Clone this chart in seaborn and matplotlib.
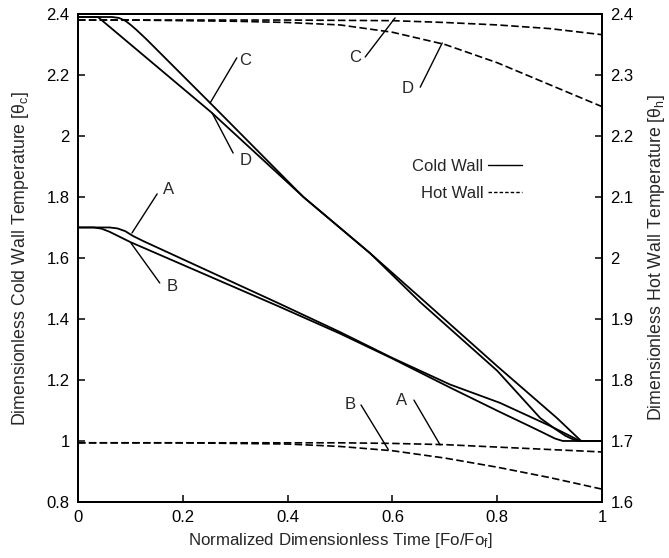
import numpy as np
import pandas as pd
import matplotlib
matplotlib.use("Agg")
import matplotlib.pyplot as plt
import seaborn as sns
from matplotlib.lines import Line2D

# ---- data ----
# Cold wall (left axis, solid)
xA_cold = [0.0, 0.06, 0.075, 0.09, 0.105, 0.125, 0.382, 0.5, 0.6, 0.71, 0.805, 0.9, 0.958, 1.0]
yA_cold = [1.70, 1.70, 1.697, 1.688, 1.672, 1.655, 1.452, 1.357, 1.272, 1.185, 1.125, 1.05, 1.0, 1.0]
xB_cold = [0.0, 0.03, 0.045, 0.06, 0.10, 0.382, 0.5, 0.6, 0.71, 0.805, 0.86, 0.89, 0.91, 0.925, 1.0]
yB_cold = [1.70, 1.70, 1.696, 1.686, 1.652, 1.442, 1.352, 1.27, 1.175, 1.095, 1.05, 1.025, 1.008, 1.0, 1.0]
xC_cold = [0.0, 0.038, 0.065, 0.078, 0.09, 0.10, 0.112, 0.13, 0.254, 0.43, 0.557, 0.653, 0.80, 0.914, 0.96, 1.0]
yC_cold = [2.39, 2.39, 2.39, 2.387, 2.378, 2.365, 2.347, 2.318, 2.105, 1.80, 1.616, 1.47, 1.245, 1.075, 1.0, 1.0]
xD_cold = [0.0, 0.038, 0.254, 0.43, 0.557, 0.653, 0.80, 0.882, 0.91, 0.93, 0.945, 0.955, 1.0]
yD_cold = [2.39, 2.39, 2.078, 1.80, 1.616, 1.455, 1.23, 1.075, 1.04, 1.017, 1.005, 1.0, 1.0]

# Hot wall (right axis, dashed)
xA_hot = [0.0, 0.5, 0.6, 0.7, 0.8, 0.9, 1.0]
yA_hot = [1.697, 1.697, 1.696, 1.694, 1.690, 1.686, 1.682]
xB_hot = [0.0, 0.2, 0.4, 0.5, 0.6, 0.7, 0.8, 0.9, 1.0]
yB_hot = [1.697, 1.697, 1.695, 1.691, 1.684, 1.672, 1.657, 1.640, 1.621]
xC_hot = [0.0, 0.2, 0.4, 0.6, 0.7, 0.8, 0.9, 1.0]
yC_hot = [2.39, 2.39, 2.39, 2.389, 2.386, 2.382, 2.376, 2.366]
xD_hot = [0.0, 0.1, 0.2, 0.3, 0.4, 0.5, 0.6, 0.7, 0.8, 0.9, 1.0]
yD_hot = [2.39, 2.39, 2.389, 2.388, 2.386, 2.382, 2.370, 2.350, 2.320, 2.284, 2.248]

left_ticks = [0.8, 1.0, 1.2, 1.4, 1.6, 1.8, 2.0, 2.2, 2.4]
right_ticks = [1.6, 1.7, 1.8, 1.9, 2.0, 2.1, 2.2, 2.3, 2.4]
x_ticks = [0, 0.2, 0.4, 0.6, 0.8, 1.0]

def frame(xs, ys, name):
    return pd.DataFrame({"x": xs, "y": ys, "case": name})

cold = pd.concat([frame(xA_cold, yA_cold, "A"), frame(xB_cold, yB_cold, "B"),
                  frame(xC_cold, yC_cold, "C"), frame(xD_cold, yD_cold, "D")])
hot = pd.concat([frame(xA_hot, yA_hot, "A"), frame(xB_hot, yB_hot, "B"),
                 frame(xC_hot, yC_hot, "C"), frame(xD_hot, yD_hot, "D")])

# ---- styling ----
sns.set_style("ticks")
plt.rcParams["font.family"] = ["Liberation Sans", "DejaVu Sans"]
plt.rcParams["mathtext.fontset"] = "custom"
plt.rcParams["mathtext.rm"] = "Liberation Sans"
plt.rcParams["mathtext.it"] = "Liberation Sans"

fig = plt.figure(figsize=(6.69, 5.58), dpi=100)
ax = fig.add_axes([0.1166, 0.1004, 0.7834, 0.8746])
ax2 = ax.twinx()

pal = {k: "black" for k in "ABCD"}
sns.lineplot(data=cold, x="x", y="y", hue="case", units="case", estimator=None,
             sort=False, palette=pal, linewidth=1.3, legend=False, ax=ax)
for name, g in hot.groupby("case"):
    sns.lineplot(x=g["x"].values, y=g["y"].values, color="black", linewidth=1.2,
                 sort=False, estimator=None, ax=ax2, linestyle=(0, (4.5, 2.0)))

ax.set_xlim(0, 1)
ax.set_ylim(0.8, 2.4)
ax2.set_ylim(1.6, 2.4)
ax.set_xticks(x_ticks)
ax.set_xticklabels([f"{t:g}" for t in x_ticks])
ax.set_yticks(left_ticks)
ax.set_yticklabels([f"{t:g}" for t in left_ticks])
ax2.set_yticks(right_ticks)
ax2.set_yticklabels([f"{t:g}" for t in right_ticks])

for a in (ax, ax2):
    a.tick_params(direction="in", length=5, width=1.1, labelsize=12, colors="black")
    for s in a.spines.values():
        s.set_visible(True)
        s.set_linewidth(1.4)
        s.set_color("black")
ax.tick_params(axis="x", pad=6)
ax.tick_params(axis="y", pad=6)
ax2.tick_params(axis="y", pad=6)

ax.set_xlabel("Normalized Dimensionless Time [Fo/Fo$_f$]", fontsize=12.2, labelpad=4)
ax.set_ylabel("Dimensionless Cold Wall Temperature [θ$_c$]", fontsize=12.8, labelpad=11)
ax2.set_ylabel("Dimensionless Hot Wall Temperature [θ$_h$]", fontsize=12.8, labelpad=9)

# ---- labels with leader lines (left-axis data coords) ----
notes = [
    ("C", (0.319, 2.249), (0.303, 2.256), (0.252, 2.108)),
    ("D", (0.319, 1.921), (0.296, 1.944), (0.256, 2.075)),
    ("C", (0.528, 2.256), (0.548, 2.259), (0.605, 2.387)),
    ("D", (0.628, 2.157), (0.653, 2.160), (0.695, 2.305)),
    ("A", (0.172, 1.823), (0.151, 1.810), (0.103, 1.682)),
    ("B", (0.180, 1.505), (0.156, 1.518), (0.101, 1.649)),
    ("B", (0.520, 1.118), (0.540, 1.118), (0.592, 0.972)),
    ("A", (0.617, 1.134), (0.641, 1.134), (0.691, 0.987)),
]
for lab, tpos, p0, p1 in notes:
    ax.text(tpos[0], tpos[1], lab, fontsize=12, ha="center", va="center")
    ax.plot([p0[0], p1[0]], [p0[1], p1[1]], color="black", linewidth=1.0)

# ---- legend ----
handles = [Line2D([0], [0], color="black", linewidth=1.0),
           Line2D([0], [0], color="black", linewidth=1.0, linestyle=(0, (2.5, 1.5)))]
ax.legend(handles, ["Cold Wall", "Hot Wall"], loc="center right",
          bbox_to_anchor=(0.875, 0.66), frameon=False, markerfirst=False,
          fontsize=12, handlelength=2.0, handletextpad=0.3, labelspacing=0.75,
          alignment="right")

fig.savefig("out.png", dpi=100)
